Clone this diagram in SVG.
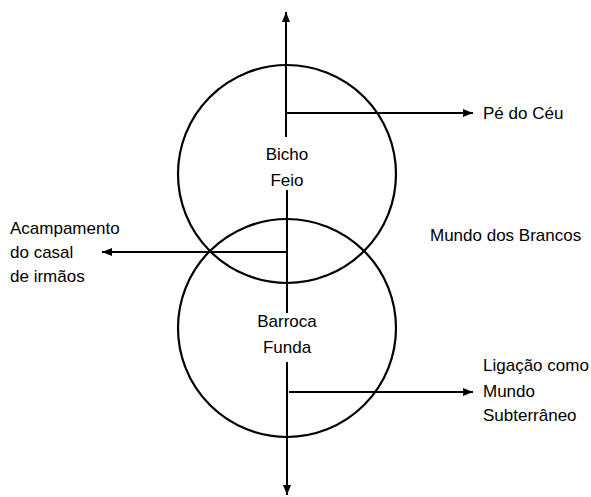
<svg xmlns="http://www.w3.org/2000/svg" width="591" height="497" viewBox="0 0 591 497">
<style>
.ln{stroke:#000;stroke-width:2;fill:none}
.c{stroke:#000;stroke-width:2.2;fill:none}
text{font-family:"Liberation Sans","DejaVu Sans",sans-serif;font-size:17px;fill:#000}
.m{text-anchor:middle}
</style>
<defs>
<marker id="ah" viewBox="0 0 10 10" refX="10" refY="5" markerWidth="10" markerHeight="10" markerUnits="userSpaceOnUse" orient="auto">
<path d="M0,1 L10,5 L0,9 Z" fill="#000"/>
</marker>
</defs>
<g id="upper-circle"><circle class="c" cx="287" cy="174" r="109"/></g>
<g id="lower-circle"><circle class="c" cx="287" cy="328" r="109"/></g>
<g id="connectors">
<line class="ln" x1="286" y1="137" x2="286" y2="12" marker-end="url(#ah)"/>
<line class="ln" x1="287" y1="190" x2="287" y2="313"/>
<line class="ln" x1="287" y1="362" x2="287" y2="495" marker-end="url(#ah)"/>
<line class="ln" x1="287" y1="113" x2="473" y2="113" marker-end="url(#ah)"/>
<line class="ln" x1="287" y1="252" x2="102" y2="252" marker-end="url(#ah)"/>
<line class="ln" x1="289" y1="392" x2="473" y2="392" marker-end="url(#ah)"/>
</g>
<g id="bicho-feio"><text class="m" x="287" y="160">Bicho</text><text class="m" x="287" y="186">Feio</text></g>
<g id="barroca-funda"><text class="m" x="287" y="327">Barroca</text><text class="m" x="287" y="353">Funda</text></g>
<g id="pe-do-ceu"><text x="483" y="119">Pé do Céu</text></g>
<g id="acampamento"><text x="10" y="234">Acampamento</text><text x="10" y="258">do casal</text><text x="10" y="282">de irmãos</text></g>
<g id="mundo-brancos"><text x="430" y="241">Mundo dos Brancos</text></g>
<g id="subterraneo"><text x="483" y="371">Ligação como</text><text x="483" y="397">Mundo</text><text x="483" y="421">Subterrâneo</text></g>
</svg>
